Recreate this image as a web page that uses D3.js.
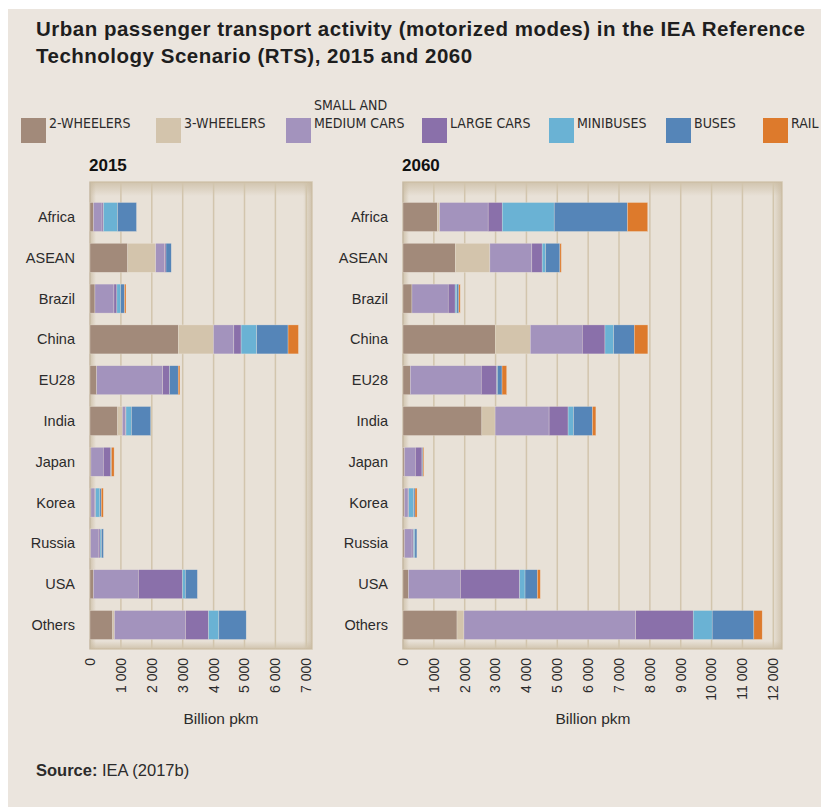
<!DOCTYPE html>
<html>
<head>
<meta charset="utf-8">
<script src="https://cdn.jsdelivr.net/npm/d3@7"></script>
<style>
  body { margin: 0; background: #fff; }
  svg { display: block; }
  text { font-family: "Liberation Sans", Arial, Helvetica, sans-serif; fill: #2b2b2b; }
  .leg { font-family: "Liberation Sans Narrow", "Arial Narrow", "DejaVu Sans Condensed", sans-serif; font-size: 14px; }
</style>
</head>
<body>
<svg id="chart"></svg>
<script>
// regions, top to bottom
var regions = ['Africa', 'ASEAN', 'Brazil', 'China', 'EU28', 'India', 'Japan', 'Korea', 'Russia', 'USA', 'Others'];
var modes = ['2-WHEELERS', '3-WHEELERS', 'SMALL AND MEDIUM CARS', 'LARGE CARS', 'MINIBUSES', 'BUSES', 'RAIL'];
var modeColors = ['#a28a7a', '#d3c4ac', '#a393bd', '#8a70aa', '#6ab2d4', '#5585b8', '#dd7a2c'];

// billion pkm, 2015 (one array per mode, in region order)
var w2_2015    = [110, 1220, 160, 2860, 215, 895, 30, 30, 20, 110, 735];
var w3_2015    = [0, 905, 0, 1135, 0, 150, 0, 0, 0, 0, 55];
var smCar_2015 = [280, 290, 615, 660, 2135, 100, 400, 130, 250, 1455, 2300];
var lgCar_2015 = [45, 45, 95, 235, 225, 20, 235, 20, 55, 1425, 745];
var mini_2015  = [455, 0, 120, 505, 0, 175, 0, 140, 45, 95, 335];
var bus_2015   = [615, 170, 130, 1015, 280, 625, 30, 45, 65, 390, 885];
var rail_2015  = [0, 0, 45, 335, 55, 0, 85, 65, 0, 0, 0];

// billion pkm, 2060
var w2_2060    = [1120, 1695, 290, 2990, 235, 2555, 45, 45, 45, 175, 1750];
var w3_2060    = [65, 1120, 0, 1135, 0, 430, 0, 0, 0, 0, 225];
var smCar_2060 = [1575, 1360, 1175, 1685, 2300, 1750, 355, 120, 250, 1685, 5565];
var lgCar_2060 = [455, 335, 225, 735, 505, 615, 215, 20, 45, 1920, 1865];
var mini_2060  = [1685, 110, 55, 280, 20, 175, 0, 160, 45, 175, 615];
var bus_2060   = [2375, 465, 65, 670, 150, 615, 30, 45, 65, 400, 1350];
var rail_2060  = [655, 45, 45, 440, 150, 110, 30, 65, 0, 95, 270];

var ticks2015 = [0, 1000, 2000, 3000, 4000, 5000, 6000, 7000];
var ticks2060 = [0, 1000, 2000, 3000, 4000, 5000, 6000, 7000, 8000, 9000, 10000, 11000, 12000];

var W = 821, H = 807;
var svg = d3.select('#chart').attr('width', W).attr('height', H);

svg.append('rect').attr('x', 8).attr('y', 9).attr('width', W - 8).attr('height', H - 9).attr('fill', '#ebe5de');

// title
var title = svg.append('text').attr('x', 36).attr('y', 36)
  .style('font-weight', 'bold').style('font-size', '20.5px').style('letter-spacing', '0.5px').style('fill', '#1e1e1e');
title.append('tspan').text('Urban passenger transport activity (motorized modes) in the IEA Reference');
title.append('tspan').attr('x', 36).attr('y', 63).text('Technology Scenario (RTS), 2015 and 2060');

// legend
var legendX = [21, 156, 286, 422, 549, 666, 763];
var leg = svg.append('g');
modes.forEach(function(m, i) {
  var g = leg.append('g').attr('transform', 'translate(' + legendX[i] + ',118)');
  g.append('rect').attr('width', 25).attr('height', 25).attr('fill', modeColors[i]);
  if (m === 'SMALL AND MEDIUM CARS') {
    g.append('text').attr('class', 'leg').attr('x', 28).attr('y', -8).text('SMALL AND');
    g.append('text').attr('class', 'leg').attr('x', 28).attr('y', 9.5).text('MEDIUM CARS');
  } else {
    g.append('text').attr('class', 'leg').attr('x', 28).attr('y', 9.5).text(m);
  }
});

function makeRows(cols) {
  return regions.map(function(r, i) {
    var o = { region: r };
    modes.forEach(function(m, j) { o[m] = cols[j][i]; });
    return o;
  });
}

var fmt = function(v) { return d3.format(',')(v).replace(/,/g, ' '); };

function panel(opts) {
  var x = d3.scaleLinear().domain([0, opts.max]).range([opts.x0, opts.x1]);
  var y = d3.scaleBand().domain(regions).range([196.6, 645.4]).paddingInner(0.29).paddingOuter(0.145);
  var top = 182, bottom = 649;
  var g = svg.append('g');
  var id = 'p' + opts.year;

  var defs = svg.append('defs');
  function grad(name, x1, y1, x2, y2) {
    var lg = defs.append('linearGradient').attr('id', id + name)
      .attr('x1', x1).attr('y1', y1).attr('x2', x2).attr('y2', y2);
    lg.append('stop').attr('offset', 0).attr('stop-color', '#c9baa0').attr('stop-opacity', 0.75);
    lg.append('stop').attr('offset', 1).attr('stop-color', '#c9baa0').attr('stop-opacity', 0);
  }
  grad('t', 0, 0, 0, 1); grad('r', 1, 0, 0, 0); grad('b', 0, 1, 0, 0); grad('l', 0, 0, 1, 0);

  // plot frame
  g.append('rect').attr('x', opts.x0).attr('y', top).attr('width', opts.frameR - opts.x0).attr('height', bottom - top)
    .attr('fill', '#e8e1d7').attr('stroke', '#d3c6b0').attr('stroke-width', 1.5);
  g.append('rect').attr('x', opts.x0).attr('y', top).attr('width', opts.frameR - opts.x0).attr('height', 14).attr('fill', 'url(#' + id + 't)');
  g.append('rect').attr('x', opts.frameR - 9).attr('y', top).attr('width', 9).attr('height', bottom - top).attr('fill', 'url(#' + id + 'r)');
  g.append('rect').attr('x', opts.x0).attr('y', bottom - 8).attr('width', opts.frameR - opts.x0).attr('height', 8).attr('fill', 'url(#' + id + 'b)');
  g.append('rect').attr('x', opts.x0).attr('y', top).attr('width', 6).attr('height', bottom - top).attr('fill', 'url(#' + id + 'l)');

  // gridlines
  g.selectAll('.grid').data(opts.ticks.slice(1)).enter().append('line')
    .attr('x1', d => x(d)).attr('x2', d => x(d)).attr('y1', top + 1).attr('y2', bottom - 1)
    .attr('stroke', '#d2c5ad').attr('stroke-width', 1.5);
  g.append('line').attr('x1', x(0)).attr('x2', x(0)).attr('y1', top).attr('y2', bottom)
    .attr('stroke', '#c4b9a6').attr('stroke-width', 1);

  // bars
  var stack = d3.stack().keys(modes)(makeRows(opts.cols));
  g.selectAll('.layer').data(stack).enter().append('g')
    .attr('fill', (d, i) => modeColors[i])
    .selectAll('rect').data(d => d).enter().append('rect')
      .attr('x', d => x(d[0]))
      .attr('width', d => Math.max(0, x(d[1]) - x(d[0])))
      .attr('y', d => y(d.data.region))
      .attr('height', y.bandwidth())
      .attr('stroke', '#efe8df').attr('stroke-width', 0.5).attr('stroke-opacity', 0.6);

  // region labels
  g.selectAll('.cat').data(regions).enter().append('text')
    .attr('x', opts.x0 - 15).attr('y', d => y(d) + y.bandwidth() / 2).attr('dy', '0.35em')
    .attr('text-anchor', 'end').style('font-size', '14.5px').text(d => d);

  // x tick labels (rotated)
  g.selectAll('.tick').data(opts.ticks).enter().append('text')
    .attr('transform', d => 'translate(' + x(d) + ',658) rotate(-90)')
    .attr('dy', '0.35em').attr('text-anchor', 'end').style('font-size', '14px')
    .text(d => fmt(d));

  g.append('text').attr('x', opts.labelX).attr('y', 724).attr('text-anchor', 'middle')
    .style('font-size', '15.5px').text('Billion pkm');

  g.append('text').attr('x', opts.x0 - 1).attr('y', 171).style('font-weight', 'bold').style('font-size', '17px')
    .style('fill', '#111').text(opts.year);
}

panel({ year: '2015', max: 7000, ticks: ticks2015, x0: 90, x1: 306.3, frameR: 312, labelX: 221,
  cols: [w2_2015, w3_2015, smCar_2015, lgCar_2015, mini_2015, bus_2015, rail_2015] });
panel({ year: '2060', max: 12000, ticks: ticks2060, x0: 403, x1: 773.3, frameR: 782, labelX: 593,
  cols: [w2_2060, w3_2060, smCar_2060, lgCar_2060, mini_2060, bus_2060, rail_2060] });

// source
var src = svg.append('text').attr('x', 36).attr('y', 776).style('font-size', '16.5px');
src.append('tspan').style('font-weight', 'bold').text('Source:');
src.append('tspan').text(' IEA (2017b)');
</script>
</body>
</html>
